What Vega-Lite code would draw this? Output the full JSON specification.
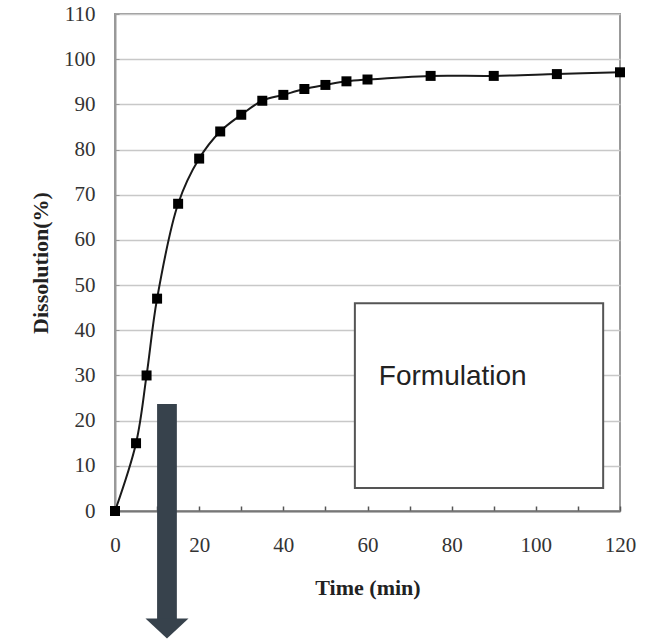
{
  "$schema": "https://vega.github.io/schema/vega-lite/v6.json",
  "width": 505,
  "height": 497,
  "autosize": "none",
  "padding": {"left": 115, "top": 14, "right": 34, "bottom": 129},
  "background": "white",
  "view": {"stroke": "#999999", "strokeWidth": 2},
  "datasets": {
    "points": [
      {"t": 0, "d": 0},
      {"t": 5, "d": 15},
      {"t": 7.5, "d": 30},
      {"t": 10, "d": 47},
      {"t": 15, "d": 68},
      {"t": 20, "d": 78},
      {"t": 25, "d": 84},
      {"t": 30, "d": 87.7},
      {"t": 35, "d": 90.8},
      {"t": 40, "d": 92.1},
      {"t": 45, "d": 93.4},
      {"t": 50, "d": 94.3},
      {"t": 55, "d": 95.1},
      {"t": 60, "d": 95.5},
      {"t": 75, "d": 96.3},
      {"t": 90, "d": 96.3},
      {"t": 105, "d": 96.7},
      {"t": 120, "d": 97.1}
    ],
    "box": [{"x1": 57, "x2": 116, "y1": 5.1, "y2": 46, "label": "Formulation", "tx": 62.7, "ty": 29.7}],
    "arrow": [{"x1": 10.0, "x2": 14.7, "y1": 23.7, "y2": -23.9, "hx": 12.35, "hy": -26}]
  },
  "layer": [
    {
      "data": {"name": "points"},
      "mark": {"type": "line", "interpolate": "catmull-rom", "color": "#1a1a1a", "strokeWidth": 2},
      "encoding": {
        "x": {
          "field": "t", "type": "quantitative",
          "scale": {"domain": [0, 120], "nice": false},
          "axis": {
            "values": [0, 10, 20, 30, 40, 50, 60, 70, 80, 90, 100, 110, 120],
            "labelExpr": "datum.value % 20 === 0 ? datum.label : ''",
            "labelFlush": false,
            "grid": false,
            "domainColor": "#777777", "domainWidth": 2,
            "tickColor": "#555555", "tickSize": -5, "tickWidth": 1.5,
            "labelFont": "Liberation Serif", "labelFontSize": 21, "labelColor": "#333333",
            "labelPadding": 28,
            "title": "Time (min)",
            "titleFont": "Liberation Serif", "titleFontSize": 22, "titleFontWeight": "bold", "titleColor": "#222222",
            "titlePadding": 22
          }
        },
        "y": {
          "field": "d", "type": "quantitative",
          "scale": {"domain": [0, 110], "nice": false},
          "axis": {
            "values": [0, 10, 20, 30, 40, 50, 60, 70, 80, 90, 100, 110],
            "labelFlush": false,
            "grid": true, "gridColor": "#c8c8c8", "gridWidth": 1.5,
            "domainColor": "#999999", "domainWidth": 2,
            "tickColor": "#999999", "tickSize": -4,
            "labelFont": "Liberation Serif", "labelFontSize": 21, "labelColor": "#333333",
            "labelPadding": 24,
            "title": "Dissolution(%)",
            "titleFont": "Liberation Serif", "titleFontSize": 22, "titleFontWeight": "bold", "titleColor": "#222222",
            "titlePadding": 11
          }
        }
      }
    },
    {
      "data": {"name": "points"},
      "mark": {"type": "point", "shape": "square", "filled": true, "color": "#000000", "size": 100, "opacity": 1},
      "encoding": {
        "x": {"field": "t", "type": "quantitative"},
        "y": {"field": "d", "type": "quantitative"}
      }
    },
    {
      "data": {"name": "box"},
      "mark": {"type": "rect", "fill": "white", "stroke": "#555555", "strokeWidth": 2},
      "encoding": {
        "x": {"field": "x1", "type": "quantitative"},
        "x2": {"field": "x2"},
        "y": {"field": "y1", "type": "quantitative"},
        "y2": {"field": "y2"}
      }
    },
    {
      "data": {"name": "box"},
      "mark": {"type": "text", "font": "Liberation Sans", "fontSize": 28, "color": "#222222", "align": "left", "baseline": "middle"},
      "encoding": {
        "x": {"field": "tx", "type": "quantitative"},
        "y": {"field": "ty", "type": "quantitative"},
        "text": {"field": "label"}
      }
    },
    {
      "data": {"name": "arrow"},
      "mark": {"type": "rect", "fill": "#37424c"},
      "encoding": {
        "x": {"field": "x1", "type": "quantitative"},
        "x2": {"field": "x2"},
        "y": {"field": "y1", "type": "quantitative"},
        "y2": {"field": "y2"}
      }
    },
    {
      "data": {"name": "arrow"},
      "mark": {"type": "point", "shape": "M-1,-0.465L1,-0.465L0,0.465Z", "filled": true, "fill": "#37424c", "strokeWidth": 0, "size": 1849, "opacity": 1},
      "encoding": {
        "x": {"field": "hx", "type": "quantitative"},
        "y": {"field": "hy", "type": "quantitative"}
      }
    }
  ]
}
